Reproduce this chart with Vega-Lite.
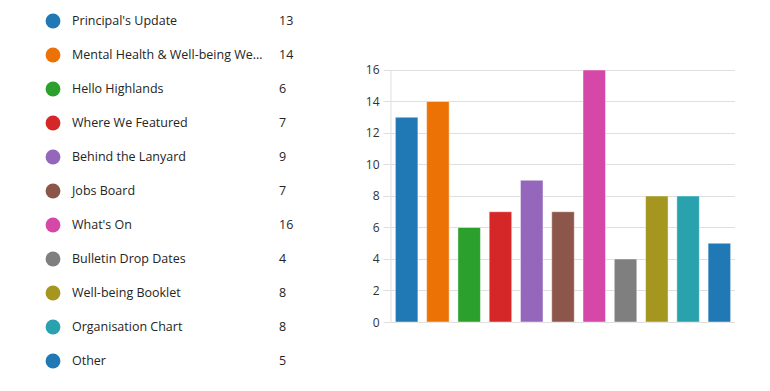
{
  "$schema": "https://vega.github.io/schema/vega-lite/v6.json",
  "padding": {"left": 0, "top": 4, "right": 0, "bottom": 0},
  "background": "white",
  "config": {"view": {"stroke": null}, "font": "Open Sans", "concat": {"spacing": 61}, "axis": {"labelOverlap": false}},
  "data": {"values": [
    {"name": "Principal's Update", "count": 13},
    {"name": "Mental Health & Well-being We…", "count": 14},
    {"name": "Hello Highlands", "count": 6},
    {"name": "Where We Featured", "count": 7},
    {"name": "Behind the Lanyard", "count": 9},
    {"name": "Jobs Board", "count": 7},
    {"name": "What's On", "count": 16},
    {"name": "Bulletin Drop Dates", "count": 4},
    {"name": "Well-being Booklet", "count": 8},
    {"name": "Organisation Chart", "count": 8},
    {"name": "Other", "count": 5}
  ]},
  "hconcat": [
    {
      "width": 300,
      "height": 374,
      "encoding": {
        "y": {"field": "name", "type": "nominal", "sort": null, "axis": null, "scale": {"paddingInner": 0, "paddingOuter": 0}}
      },
      "layer": [
        {
          "mark": {"type": "circle", "size": 220, "opacity": 1},
          "encoding": {
            "x": {"value": 53},
            "color": {
              "field": "name", "type": "nominal", "sort": null, "legend": null,
              "scale": {
                "domain": ["Principal's Update", "Mental Health & Well-being We…", "Hello Highlands", "Where We Featured", "Behind the Lanyard", "Jobs Board", "What's On", "Bulletin Drop Dates", "Well-being Booklet", "Organisation Chart", "Other"],
                "range": ["#2078b4", "#ec7206", "#2ca02c", "#d62728", "#9467bd", "#8c564b", "#d548a8", "#7f7f7f", "#a59620", "#29a2ae", "#2078b4"]
              }
            }
          }
        },
        {
          "mark": {"type": "text", "align": "left", "baseline": "middle", "fontSize": 12.5, "color": "#252423"},
          "encoding": {"x": {"value": 72}, "text": {"field": "name"}}
        },
        {
          "mark": {"type": "text", "align": "left", "baseline": "middle", "fontSize": 12.5, "color": "#252423"},
          "encoding": {"x": {"value": 279}, "text": {"field": "count"}}
        }
      ]
    },
    {
      "width": 344,
      "height": 318,
      "layer": [
        {
          "mark": {"type": "bar", "stroke": "white", "strokeWidth": 1, "strokeOpacity": 0.45},
          "encoding": {
            "x": {"field": "name", "type": "nominal", "sort": null, "axis": null, "scale": {"paddingInner": 0.28, "paddingOuter": 0.14}},
            "y": {
              "field": "count", "type": "quantitative",
              "scale": {"domain": [0, 20.19], "nice": false, "zero": true},
              "axis": {
                "title": null, "values": [0, 2, 4, 6, 8, 10, 12, 14, 16], "domain": false, "labelOverlap": false,
                "gridColor": "#e1dfdd", "tickColor": "#e1dfdd",
                "tickSize": 8, "labelPadding": 4, "labelFontSize": 12, "labelColor": "#323130",
                "minExtent": 30, "maxExtent": 30
              }
            },
            "color": {
              "field": "name", "type": "nominal", "sort": null, "legend": null,
              "scale": {
                "domain": ["Principal's Update", "Mental Health & Well-being We…", "Hello Highlands", "Where We Featured", "Behind the Lanyard", "Jobs Board", "What's On", "Bulletin Drop Dates", "Well-being Booklet", "Organisation Chart", "Other"],
                "range": ["#2078b4", "#ec7206", "#2ca02c", "#d62728", "#9467bd", "#8c564b", "#d548a8", "#7f7f7f", "#a59620", "#29a2ae", "#2078b4"]
              }
            }
          }
        },
        {
          "data": {"values": [{"from": 0, "to": 16}]},
          "mark": {"type": "rule", "color": "#e1dfdd", "strokeWidth": 1},
          "encoding": {
            "x": {"value": 0},
            "y": {
              "field": "from", "type": "quantitative",
              "axis": {
                "title": null, "values": [0, 2, 4, 6, 8, 10, 12, 14, 16], "domain": false, "labelOverlap": false,
                "gridColor": "#e1dfdd", "tickColor": "#e1dfdd",
                "tickSize": 8, "labelPadding": 4, "labelFontSize": 12, "labelColor": "#323130",
                "minExtent": 30, "maxExtent": 30
              }
            },
            "y2": {"field": "to"}
          }
        }
      ]
    }
  ],
  "resolve": {"scale": {"color": "independent"}}
}
